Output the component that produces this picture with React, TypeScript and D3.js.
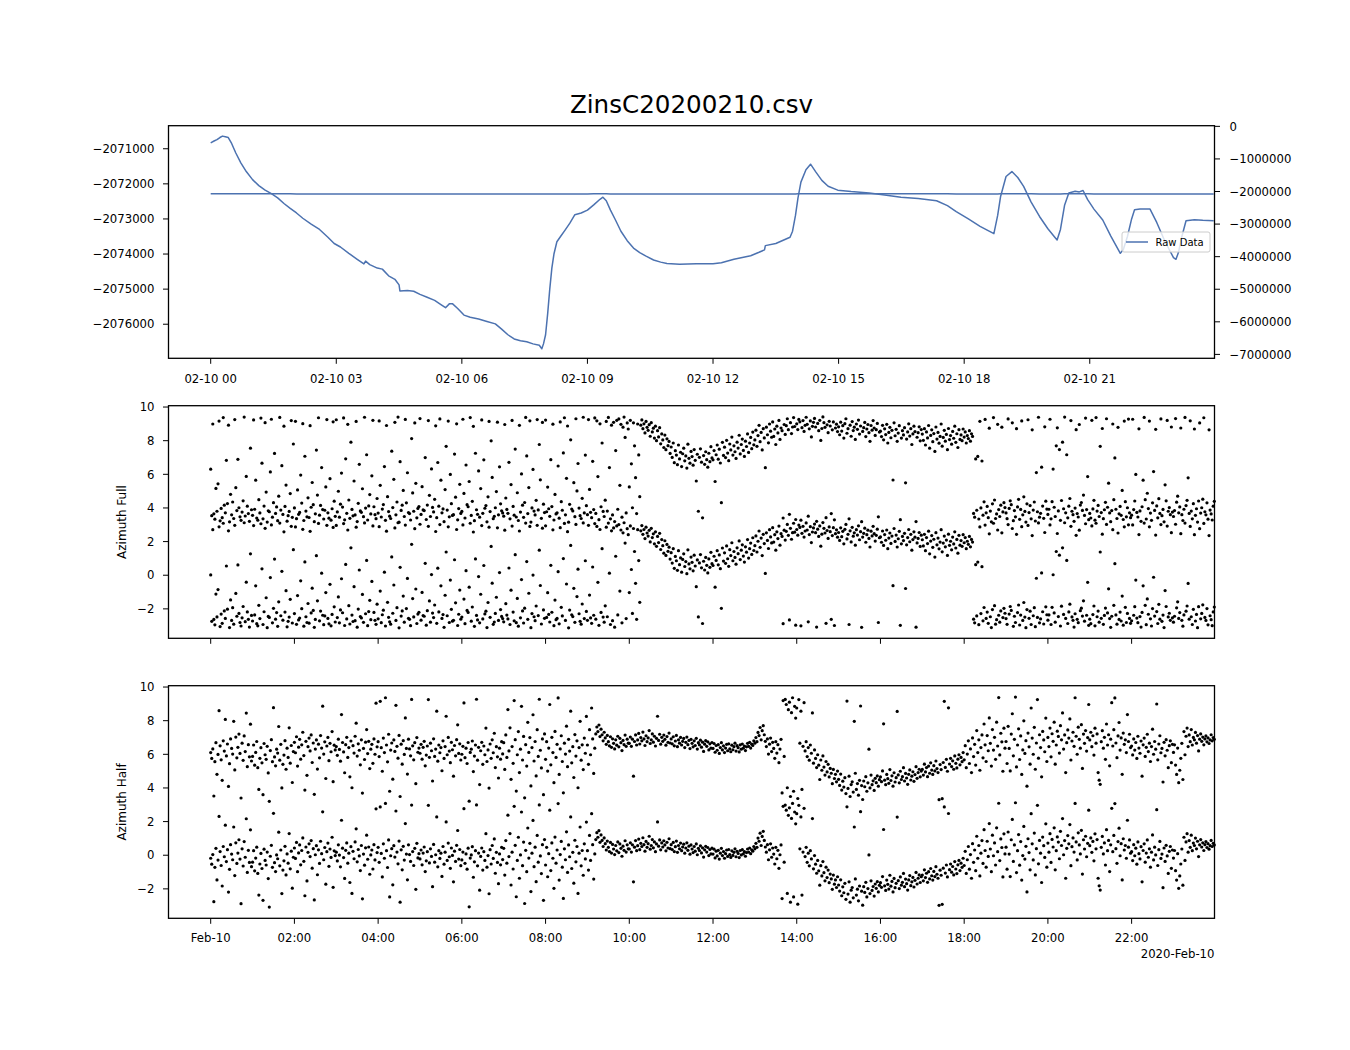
import React from 'react';
import * as d3 from 'd3';

// ---- Top panel: raw data (hours since 2020-02-10 00:00, value) ----
const rawHours = [
  0.0, 0.08, 0.15, 0.22, 0.28, 0.35, 0.42, 0.5, 0.6, 0.72, 0.85, 1.0, 1.15, 1.3, 1.45, 1.6, 1.75, 1.9,
  2.05, 2.2, 2.4, 2.6, 2.8, 2.95, 3.1, 3.3, 3.5, 3.66, 3.7, 3.8, 3.98, 4.1, 4.25, 4.4, 4.5, 4.52, 4.7,
  4.85, 5.0, 5.17, 5.35, 5.5, 5.61, 5.7, 5.78, 5.9, 6.05, 6.2, 6.4, 6.6, 6.8, 6.95, 7.1, 7.25, 7.4,
  7.55, 7.7, 7.85, 7.91, 7.95, 8.0, 8.05, 8.1, 8.15, 8.2, 8.27, 8.37, 8.47, 8.58, 8.7, 8.85, 9.0, 9.15,
  9.3, 9.37, 9.45, 9.55, 9.67, 9.8, 9.95, 10.1, 10.25, 10.4, 10.58, 10.75, 10.9, 11.2, 11.6, 12.0, 12.2,
  12.5, 12.9, 13.1, 13.23, 13.25, 13.5, 13.84, 13.9, 13.97, 14.03, 14.1, 14.22, 14.33, 14.45, 14.6,
  14.75, 14.98, 15.3, 15.73, 16.1, 16.49, 16.9, 17.34, 17.6, 17.81, 18.1, 18.38, 18.55, 18.71, 18.8,
  18.87, 19.0, 19.14, 19.28, 19.42, 19.6, 19.8, 20.0, 20.15, 20.22, 20.3, 20.4, 20.5, 20.65, 20.75,
  20.84, 20.95, 21.1, 21.31, 21.5, 21.73, 21.8, 21.9, 22.0, 22.07, 22.2, 22.44, 22.6, 22.8, 23.0, 23.06,
  23.12, 23.2, 23.3, 23.5, 23.7, 23.96,
];
const rawValues = [
  -2070830, -2070780, -2070740, -2070680, -2070640, -2070660, -2070680, -2070850, -2071120, -2071400,
  -2071650, -2071880, -2072050, -2072180, -2072280, -2072400, -2072560, -2072700, -2072830, -2072980,
  -2073150, -2073300, -2073520, -2073700, -2073800, -2073980, -2074150, -2074280, -2074200, -2074300,
  -2074400, -2074430, -2074620, -2074720, -2074880, -2075050, -2075040, -2075060, -2075150, -2075230,
  -2075320, -2075440, -2075530, -2075420, -2075420, -2075550, -2075740, -2075800, -2075850, -2075920,
  -2075990, -2076140, -2076300, -2076420, -2076470, -2076500, -2076560, -2076600, -2076700, -2076560,
  -2076300, -2075700, -2075000, -2074400, -2074000, -2073650, -2073480, -2073310, -2073120, -2072880,
  -2072830, -2072750, -2072600, -2072440, -2072380, -2072480, -2072750, -2073030, -2073350, -2073620,
  -2073830, -2073960, -2074060, -2074170, -2074230, -2074270, -2074290, -2074280, -2074280, -2074250,
  -2074150, -2074050, -2073950, -2073880, -2073760, -2073700, -2073520, -2073350, -2072900, -2072400,
  -2071950, -2071600, -2071440, -2071650, -2071900, -2072070, -2072180, -2072220, -2072260, -2072320,
  -2072380, -2072420, -2072480, -2072620, -2072790, -2073000, -2073210, -2073320, -2073420, -2072900,
  -2072360, -2071790, -2071650, -2071820, -2072070, -2072520, -2072930, -2073280, -2073500, -2073600,
  -2073300, -2072600, -2072260, -2072210, -2072230, -2072190, -2072450, -2072720, -2073030, -2073480,
  -2073980, -2073880, -2073500, -2073000, -2072740, -2072720, -2072720, -2073100, -2073650, -2074100,
  -2074150, -2073950, -2073500, -2073050, -2073020, -2073040, -2073050,
];

// ---- Azimuth Full (radians), one row per hour, samples evenly spaced within the hour ----
const azimuthFull = [
  [0.02, -2.74, 2.71, -2.63, -2.95, -1.12, -2.48, -0.85, 2.88, -3.05, -2.31, -2.86, 3.09, -2.12, -2.57, 0.55, -2.02, 2.64, -3.11, -1.47, -2.69, -1.93, -2.91, 2.97, -1.08, -2.44, 0.61, -2.27, -2.81, -3.02, -2.53, -1.86, 3.12, -2.76, -0.41, -2.18, -2.62, -3.08, 1.27, -2.39],
  [-2.72, 2.95, -2.36, -0.63, -2.88, -3.01, -1.79, -2.58, 3.06, 0.38, -2.93, -2.17, 2.79, -1.34, -3.12, -2.45, -2.51, -0.14, 2.99, -2.83, -1.97, 0.96, -2.61, -2.22, -3.04, -1.58, 3.1, -2.41, 0.23, -2.67, 2.58, -2.19, -0.92, -3.07, -2.74, -2.49, -1.43, 2.91, -2.84, 1.52],
  [-2.28, 2.87, -2.92, -1.21, -2.66, -2.55, -0.33, -1.99, 2.73, -3.03, 0.79, -2.47, -2.81, -1.68, -2.85, 2.61, -2.24, -0.77, -2.09, -3.1, -2.63, 1.16, -1.52, 3.08, -2.71, -2.13, 0.12, -2.38, -2.94, -2.42, -1.03, 2.97, -2.57, -2.89, -0.54, -3.01, -2.33, 2.84, -1.88, -2.78],
  [2.96, -2.52, -1.29, -2.83, -2.06, -0.21, -2.23, 3.07, -2.99, 0.64, -2.6, 2.69, -1.81, -2.9, 1.63, -2.37, -2.75, -0.68, -2.7, 2.86, -3.09, -2.01, 0.31, -2.46, -2.54, -1.14, -2.8, 3.11, -2.29, 0.88, -3.0, -2.16, -1.49, -2.64, -0.37, 2.93, -2.21, -2.68, -2.92, -1.72],
  [-2.59, 2.89, -0.94, -2.82, -2.35, -2.08, 0.18, -3.02, 2.62, -1.61, -2.5, -2.77, -2.91, 1.09, -2.26, -0.58, 2.81, -2.69, -1.93, 3.12, -3.13, 0.47, -2.43, -2.12, -1.24, -2.79, 2.98, -1.98, -0.19, -2.56, -2.62, -3.0, 1.84, -1.39, -2.48, 2.77, -0.82, -2.87, -2.31, -2.2],
  [3.03, -2.67, -1.02, -2.4, -2.44, 0.71, -2.97, -2.11, 2.91, -1.53, -2.79, 0.04, -2.25, -2.52, -1.77, 2.6, -2.86, 0.42, -2.18, 3.01, -0.63, -2.57, -2.34, -3.1, -1.19, 1.38, -2.41, 2.88, -2.81, -0.29, -2.03, -2.73, -2.68, 0.92, -1.64, 2.72, -2.99, -2.32, -0.88, -2.61],
  [-2.49, 2.99, -1.42, -2.88, 0.27, -2.09, -2.21, -0.71, 3.09, -2.73, -1.89, 2.57, -3.04, 0.97, -2.39, -2.66, -0.08, -2.83, -1.13, 2.95, -2.6, 0.58, -2.3, -2.14, -3.11, -1.62, 2.86, -2.5, 1.71, -0.47, -2.92, -2.78, -2.27, -1.31, 2.82, -2.69, 0.16, -2.04, -2.45, -2.58],
  [-2.77, 2.68, -1.69, -2.37, -2.6, 0.43, -2.93, -0.89, 2.92, -2.19, -2.71, 1.22, -2.82, -1.38, -3.03, 2.63, -2.53, -0.26, -2.12, -2.84, -1.96, 3.1, 0.81, -2.62, -1.07, 2.9, -3.12, -2.28, 0.01, -2.47, -2.7, -1.83, 2.97, -2.4, 1.49, -0.61, -2.9, 2.8, -2.06, -2.56],
  [2.94, -2.51, -1.04, -2.33, -2.78, 0.59, -2.2, 2.7, -3.0, -1.48, -2.64, -2.57, 0.21, -2.89, 2.83, -1.91, -2.42, 0.99, 3.08, -2.69, -0.52, 2.59, -3.13, -2.07, 1.77, -2.35, -2.46, -0.78, -2.8, 3.02, -1.27, 0.36, -2.29, -2.74, -2.91, -1.71, 3.11, -2.58, 0.86, -2.15],
  [-2.68, 2.97, -1.18, -2.54, -2.86, 0.49, -2.38, 3.07, -2.61, 2.9, -0.42, -2.98, 2.72, -2.21, 1.58, -2.49, -2.79, -1.82, 2.86, -2.47, 3.1, 0.12, -2.93, 2.64, -2.7, 2.81, -3.09, 1.13, 2.93, -2.36, 3.01, -0.94, 2.69, -2.83, 2.52, 3.12, 1.91, -2.58, 2.77, 2.41],
  [-1.03, 2.93, 0.34, -2.27, 2.78, 1.41, -0.48, -2.62, 2.71, 0.87, -1.61, 2.64, 2.95, 2.43, 2.72, 2.18, 2.86, 2.51, 2.33, 2.67, 1.98, 2.79, 2.24, 2.46, 1.87, 2.58, 1.72, 2.31, 1.94, 2.49, 1.53, 2.12, 1.76, 1.31, 2.05, 1.18, 1.83, 1.42, 1.67, 0.96],
  [1.34, 0.72, 1.58, 0.41, 1.12, 0.86, 0.29, 1.46, 0.63, 1.03, 0.18, 0.94, 1.27, 0.52, 0.81, 0.09, 1.51, 0.67, 0.38, 1.08, 0.77, 0.26, 1.19, 0.55, -0.68, 0.91, -2.48, 0.73, 1.23, 0.44, -2.87, 0.83, 0.31, 1.06, 0.59, 0.14, 0.97, 0.47, 1.36, 0.69],
  [0.58, 1.13, -0.71, 0.88, 1.46, 0.62, 1.21, 0.39, -1.97, 1.62, 0.84, 1.33, 0.71, 1.74, 0.98, 0.53, 1.52, 1.17, 1.93, 0.86, 1.41, 1.06, 0.66, 1.63, 1.28, 2.04, 0.93, 1.49, 1.81, 1.14, 0.78, 1.69, 1.37, 2.12, 1.02, 1.58, 1.91, 1.24, 2.23, 1.47],
  [1.76, 2.34, 1.38, 2.02, 2.63, 1.66, 2.21, 1.17, 2.43, 1.88, 0.11, 2.52, 2.07, 1.59, 2.71, 2.28, 1.92, 2.83, 1.97, 2.41, 1.49, 2.58, 2.18, 2.92, 1.79, 2.47, 2.31, -2.88, 2.68, 2.09, 2.61, 3.02, 2.37, -2.66, 2.79, 2.14, 2.53, 3.09, 2.56, -2.97],
  [2.72, 2.38, 2.98, 2.84, -3.01, 2.49, 2.91, 2.27, 2.63, 3.11, 2.69, -2.77, 2.42, 2.89, 1.94, 2.57, 2.81, 3.04, 2.53, -3.08, 2.74, 2.31, 2.93, 1.73, 2.44, 3.13, 2.79, 2.51, -2.86, 2.66, 2.19, 2.87, 2.59, -2.62, 2.36, 2.83, -2.99, 2.47, 2.7, 2.26],
  [2.54, 2.07, 2.82, 2.29, 2.61, 1.87, 2.73, 3.02, 2.16, 2.43, -2.93, 2.64, 1.98, 2.85, 2.32, 2.52, 1.79, 2.71, 2.39, 2.94, 2.11, 2.59, -3.1, 2.27, 2.49, 2.8, 1.96, 2.41, 2.68, 2.19, 1.68, 2.62, 2.34, 2.91, 2.47, 2.03, 2.37, 2.74, -2.81, 2.23],
  [2.28, 1.96, 2.63, 1.77, 2.42, 2.08, 2.69, 1.58, 2.21, 2.51, 1.89, 2.33, -0.62, 2.78, 2.01, 2.39, 1.68, 2.17, 2.61, -2.98, 1.87, 2.31, 2.06, 2.49, -0.79, 1.81, 2.24, 2.72, 1.99, 2.43, 1.49, 2.12, 2.58, 2.26, -3.09, 1.92, 2.19, 2.54, 1.71, 2.38],
  [2.11, 1.74, 2.43, 1.46, 2.24, 1.88, 2.62, 1.27, 2.03, 2.36, 1.66, 2.14, 1.08, 2.53, 1.81, 2.21, 1.57, 1.97, 2.71, 1.39, 1.91, 2.33, 1.69, 2.09, 1.18, 2.44, 1.78, 2.02, 1.51, 2.27, 1.86, 2.58, 1.62, 2.13, 1.31, 2.37, 1.79, 2.06, 1.72, 2.41],
  [1.93, 2.24, 1.58, 2.02, 1.84, 2.31, 1.69, 2.13, 1.97, -2.61, -2.83, 0.63, -2.42, 0.78, -2.94, 2.87, -2.28, 0.51, -2.71, -1.92, 2.98, -2.57, -2.19, -2.86, 2.46, -2.47, -3.11, -2.04, 3.09, -1.81, -2.91, -2.64, 2.69, -2.38, -2.79, -2.12, 2.52, -2.52, -1.97, -2.26],
  [-2.58, -2.92, 3.01, -2.31, -1.86, -2.09, 2.78, -3.04, -2.44, -2.81, 2.43, -2.22, -1.77, -2.96, -2.37, 2.89, -2.69, -1.62, -2.49, -3.12, -2.04, 2.96, -2.56, -2.14, -2.93, 2.36, -2.41, -1.93, -3.06, -0.18, -2.51, 3.11, -2.83, -2.6, 0.14, -2.17, -2.9, 2.54, -1.88, -2.35],
  [-2.67, -2.36, 2.99, -2.93, -1.91, 0.03, -2.24, -2.79, 1.41, 2.48, -2.46, 1.19, -3.02, -1.84, 1.63, -2.33, 3.12, -2.57, 0.88, -2.87, -2.18, -1.72, 2.91, -2.48, -2.68, -3.08, -2.29, 2.37, -2.62, -2.82, 2.68, -2.11, -1.96, -2.43, -1.52, -2.73, 3.06, -2.38, -0.42, -2.98],
  [-2.61, -2.88, 2.93, -2.34, -1.83, -3.01, 3.09, -2.47, -2.13, -2.79, 1.38, -2.56, 2.44, -2.92, -2.39, -1.95, 3.02, -2.24, -0.81, -2.58, -3.1, -2.44, 2.71, -1.79, 0.69, -2.36, -2.91, 2.51, -2.63, -2.19, -2.72, -1.24, -2.97, 2.88, -1.91, -2.81, -2.27, 3.0, -2.57, -2.86],
  [-2.71, 2.99, -2.38, -1.87, -0.29, -2.55, -2.82, 2.42, -2.46, -3.08, -2.21, -0.63, 3.1, -1.79, -2.94, -1.41, -2.32, 2.88, -2.59, -3.02, -1.98, -0.12, -2.43, 2.39, -2.16, -2.87, -1.73, -2.61, 3.01, -2.74, -2.37, -3.11, -0.91, -1.86, 2.92, -2.48, -2.26, -2.68, 2.53, -2.53],
  [-2.79, -2.44, 3.03, -1.94, -1.58, -2.57, -2.22, 2.47, -2.68, -3.03, -2.36, 3.1, -2.14, -1.83, -0.49, -2.61, 2.9, -2.47, -2.93, -2.03, 2.41, -2.72, -2.33, -3.12, -1.87, 2.77, -2.59, -2.27, -1.76, 3.08, -2.51, -2.69, -1.98, -2.95, 2.36, -2.41, -2.64, -3.0, -2.18, -1.89],
];

// ---- Azimuth Half (radians), one row per hour ----
const azimuthHalf = [
  [-0.18, -0.53, 0.04, -2.76, -0.72, 0.41, -1.47, -0.29, 2.31, 0.22, -0.61, -1.83, 0.52, -0.09, 1.79, -0.38, 0.33, -2.19, -0.84, 0.63, 0.07, -0.27, 1.68, -1.21, 0.74, -0.49, 0.13, 0.92, -0.23, -2.88, 0.38, -0.64, 0.81, -0.12, 2.17, -1.02, 0.29, -0.43, 1.51, -0.68],
  [-0.41, 0.27, -0.93, -0.17, 0.48, -1.08, -2.37, -0.52, 0.11, -0.79, -2.68, 0.36, -0.31, -0.58, 0.19, -1.39, -3.08, -0.06, 0.59, -0.72, 2.49, -0.44, -0.97, 0.02, -0.21, 1.37, -0.63, 0.31, -2.28, -0.88, -0.33, 0.53, -1.17, 0.08, -0.47, 1.29, -0.81, 0.24, -1.96, -0.12],
  [0.43, -0.19, 0.76, -0.98, 0.14, 0.61, -0.57, 0.28, 1.03, -0.36, -2.41, 0.49, -1.53, 0.17, 0.68, -0.08, 0.87, -0.77, 0.39, -2.66, 0.03, 0.57, -1.16, 0.32, -0.49, 0.83, 0.09, 2.58, -0.27, 0.46, -1.72, 0.21, 0.72, -0.66, 0.37, -0.13, 1.07, -1.91, 0.26, -0.02],
  [0.18, -0.34, 0.62, 0.01, -0.69, 2.08, 0.42, -0.14, -1.38, 0.29, 0.73, -0.47, 0.12, -1.62, 0.51, -2.27, 0.23, -0.21, 0.79, 1.57, -0.39, 0.34, -0.04, -0.91, 0.58, -2.59, 0.07, -0.59, 0.44, 1.19, -0.24, 0.49, -1.13, 0.02, 0.31, -0.82, 0.63, -0.28, 2.76, 0.16],
  [0.47, -0.42, 2.87, 0.11, -1.29, 0.68, -0.18, 3.08, 0.27, -0.73, 0.91, -2.48, -0.03, 0.39, -1.76, 0.57, -0.11, 2.63, 0.19, -0.51, 0.84, -2.79, 0.32, -0.87, 0.53, -0.29, 1.88, 0.07, -1.46, 0.62, 0.04, -0.37, 2.98, 0.22, -0.61, 0.41, -2.03, 0.71, -0.16, 0.09],
  [-0.22, 0.31, -0.57, 0.13, 0.49, -0.97, -0.33, 0.21, 2.97, -0.46, 0.38, -0.07, -1.87, 0.64, -0.41, 0.03, 2.28, -0.69, 0.27, -0.19, 0.12, -1.26, 0.52, -0.53, 0.18, 1.98, -0.31, 0.72, -0.09, -0.78, 0.43, -0.01, -1.58, 0.24, -0.37, 0.59, 1.47, -0.23, 0.34, -0.62],
  [-0.28, 0.19, 2.77, -0.48, 0.08, -0.83, 0.42, -3.07, -0.17, 0.02, 0.51, -1.31, -0.39, 0.27, 2.99, -0.63, 0.13, -2.08, -0.07, 0.43, -0.88, 0.21, -0.31, 1.28, -0.71, -0.02, -2.29, 0.33, -0.52, 0.58, -0.19, 0.97, -1.07, 0.17, -0.43, -1.69, 0.08, -0.57, 0.47, -0.26],
  [0.41, -1.18, 0.87, -0.47, 2.38, -0.08, 1.29, -1.77, 0.18, -0.82, 2.91, 0.59, -2.47, -0.31, 1.07, -1.37, 0.02, 2.57, -0.62, 0.78, -2.87, 0.29, -0.98, 1.62, -0.17, 0.71, -2.16, 0.12, 2.07, -0.68, 0.48, -1.57, 1.18, -0.41, 2.99, -0.04, -1.09, 0.63, -2.68, 0.93],
  [-0.58, 0.47, -1.28, 0.09, 2.68, -0.91, 0.73, -0.18, -1.97, 1.08, -0.47, 0.31, 3.07, -1.48, 0.04, 0.82, -0.71, -2.57, 0.38, -0.27, 1.39, -1.02, 0.61, -0.09, 2.28, -0.79, 0.17, -1.66, 0.89, -0.39, 0.52, -2.27, 0.12, 1.68, -0.63, 0.28, -1.19, 0.68, -0.22, 1.97],
  [0.27, -0.88, 1.18, -0.31, 2.47, 0.63, -1.42, 0.08, 0.93, 1.34, 1.07, 1.46, 0.77, 1.21, 0.88, 0.52, 1.03, 0.69, 0.31, 0.84, 0.47, 0.22, 0.76, 0.13, 0.64, 0.37, 0.04, 0.58, 0.26, 0.79, 0.16, 0.67, 0.41, -0.06, 0.54, 0.29, 0.86, 0.19, 0.62, 0.38],
  [0.37, 0.74, 0.19, 0.62, -1.58, 0.48, 0.87, 0.27, 0.57, 0.96, 0.33, 0.71, 0.52, 1.04, 0.63, 0.24, 0.82, 0.47, 0.69, 1.13, 0.36, 0.58, 0.93, 0.44, 0.79, 0.21, 0.67, 1.98, 0.54, 0.91, 0.32, 0.73, 0.49, 0.86, 0.61, 0.26, 0.77, 0.43, 0.98, 0.39],
  [0.63, 0.34, 0.76, 0.22, 0.51, 0.84, 0.17, 0.58, 0.38, 0.72, 0.27, 0.49, 0.66, 0.12, 0.43, 0.74, 0.29, 0.54, 0.06, 0.61, 0.37, 0.16, 0.52, 0.24, 0.67, 0.03, 0.41, 0.28, 0.56, 0.14, 0.44, -0.11, 0.32, 0.53, 0.19, 0.46, -0.02, 0.34, 0.08, 0.42],
  [0.07, 0.36, -0.16, 0.24, -0.04, 0.29, -0.23, 0.12, 0.41, -0.02, 0.22, -0.18, 0.09, 0.31, -0.07, 0.34, 0.04, -0.13, 0.26, -0.01, 0.17, 0.38, -0.09, 0.23, 0.11, -0.14, 0.28, 0.02, 0.33, 0.08, 0.21, -0.06, 0.16, 0.37, 0.19, 0.43, 0.09, 0.32, 0.24, 0.52],
  [0.38, 0.71, 0.47, 1.02, 0.83, 1.31, 0.58, 1.12, 1.42, 0.88, 0.49, 0.18, 0.63, -0.27, 0.32, 0.68, -0.12, 0.43, 0.07, -0.52, 0.47, -0.21, 0.29, -0.78, 0.03, 0.61, -2.58, 2.91, -0.41, 2.98, 2.68, -2.27, 2.37, 2.82, -2.79, 2.19, 3.08, -2.48, 2.57, 1.87],
  [2.47, -2.91, 2.97, 0.38, 2.28, -2.37, 0.19, 2.79, -0.08, 0.47, -0.42, 0.12, -0.63, 0.27, -0.22, 2.18, -0.81, -0.02, -0.53, -1.07, -0.31, -0.93, -1.78, -0.62, -1.23, -0.38, -1.04, -1.52, -0.71, -1.33, -0.88, -1.63, -1.12, -1.41, -2.03, -1.18, -1.72, -1.47, -1.92, -1.28],
  [-1.77, -2.13, -1.46, -2.41, -1.88, -2.23, -1.67, -2.62, 2.88, -2.31, -1.58, -2.79, -2.08, -1.92, -2.53, 1.68, -1.41, -2.37, -2.02, -2.71, -1.83, 2.59, -2.14, -2.97, -1.87, -2.21, -1.61, -2.48, -1.98, 0.02, -2.28, -1.52, -2.09, -1.86, -2.43, -1.71, -1.97, -1.57, -2.18, -1.79],
  [-1.63, -1.91, -1.27, 1.53, -1.82, -2.09, -1.48, -1.73, -2.01, -1.19, -1.84, -1.56, -2.18, -1.38, -1.93, -1.67, 2.27, -1.51, -1.98, -1.29, -1.78, -1.61, -1.08, -1.87, -1.42, -1.69, -2.07, -1.47, -1.21, -1.81, -1.58, -1.32, -1.89, -1.49, -1.02, -1.71, -1.37, -1.17, -1.62, -1.28],
  [-1.18, -1.52, -0.87, -1.33, -1.07, -1.61, -0.98, -1.41, -0.79, -1.22, -1.48, -0.96, -1.27, -0.68, -1.13, -1.37, -2.98, -0.89, -1.19, -2.92, -0.77, 2.87, -1.06, -0.58, -1.29, 2.48, -0.86, -0.52, -1.01, -0.67, -1.17, -0.38, -0.82, -1.09, -0.57, -0.31, -0.91, -0.47, -0.72, -0.18],
  [-0.61, 0.23, -1.08, -0.27, 0.52, -0.83, 0.04, -1.37, 0.69, -0.42, 0.31, -0.92, 1.13, -0.18, 0.58, -1.23, 0.12, 0.87, -0.49, 1.52, 0.28, -0.71, 0.83, -0.07, 1.88, 0.37, -0.98, 1.19, -0.03, 0.73, -0.58, 1.63, 0.21, 3.09, -0.32, 0.97, 0.46, -1.29, 1.27, 0.08],
  [0.48, -0.83, 1.38, 0.07, -1.27, 0.92, 2.13, -0.37, 0.61, 3.12, -1.03, 0.27, 1.23, -0.59, 0.81, -1.48, -0.02, 1.71, -0.23, 0.53, -2.18, 0.98, 0.16, -0.87, 2.47, 0.68, -0.28, 1.32, -1.17, 0.39, 2.97, -0.51, 0.88, 0.12, -1.62, 1.08, 0.57, -0.13, 1.87, -0.71],
  [0.72, 0.18, 1.28, -0.43, 0.94, 0.49, 1.63, -0.87, 0.27, 1.09, 0.78, -0.21, 1.42, 0.58, 2.18, 0.03, 0.87, -1.37, 0.41, 1.17, 0.68, 1.82, -0.62, 0.51, 1.03, 0.19, 3.08, 0.79, -0.28, 1.33, 0.61, 0.08, 1.48, -1.12, 0.92, 0.37, 1.13, -0.09, 0.71, 2.68],
  [0.57, 1.03, 0.17, 0.82, -0.33, 1.27, 0.38, 0.93, -1.37, -1.82, -2.07, 0.47, 1.12, 0.08, 0.73, -0.58, 1.52, 0.27, 0.88, -0.97, 0.62, 2.79, 0.21, 1.18, 3.07, 0.39, -0.48, 0.81, 1.61, -0.03, 0.69, -1.47, 0.98, 0.31, 0.58, -0.18, 2.08, 0.48, 0.91, 0.12],
  [0.21, -0.32, 0.63, -0.03, 0.42, -0.53, 0.79, 0.09, -0.22, 0.51, -1.58, 0.28, 0.68, -0.41, 0.13, 0.91, -0.12, 0.38, -0.71, 0.18, 1.21, -0.28, 0.48, 0.02, 2.71, -0.61, 0.33, 0.82, -0.19, 0.07, -1.93, 0.43, -0.37, 0.59, -0.04, -1.08, 0.23, 0.52, -0.78, 0.31],
  [-0.17, 0.28, -0.92, -1.48, 0.09, -1.97, -1.23, -0.52, 0.37, -1.78, 1.07, -0.31, 0.79, 1.28, 0.18, 0.87, 0.47, 1.19, 0.27, 0.72, 0.58, 1.02, 0.38, 0.83, -0.08, 0.62, 0.93, 0.49, 0.74, 0.28, 0.63, 0.81, 0.46, 0.69, 0.36, 0.57, 0.88, 0.52, 0.71, 0.61],
];

// ---- Axis ticks and labels ----
const leftTicks = [-2071000, -2072000, -2073000, -2074000, -2075000, -2076000];
const rightTicks = [0, -1000000, -2000000, -3000000, -4000000, -5000000, -6000000, -7000000];
const topTimeTicks = [0, 3, 6, 9, 12, 15, 18, 21];
const topTimeLabels = ['02-10 00', '02-10 03', '02-10 06', '02-10 09', '02-10 12', '02-10 15', '02-10 18', '02-10 21'];
const bottomTimeTicks = [0, 2, 4, 6, 8, 10, 12, 14, 16, 18, 20, 22];
const bottomTimeLabels = ['Feb-10', '02:00', '04:00', '06:00', '08:00', '10:00', '12:00', '14:00', '16:00', '18:00', '20:00', '22:00'];
const azTicks = [-2, 0, 2, 4, 6, 8, 10];

const FONT = 'DejaVu Sans, sans-serif';
const LINE_COLOR = '#4c72b0';
const fmt = (n: number) => (n < 0 ? '\u2212' + Math.abs(n) : String(n));

const L = 168.5;
const R = 1214.5;
const panels = { top: [125.7, 358.3], mid: [405.7, 638.3], bot: [685.7, 918.3] };
const TICK_FONT = 11.7;

function Frame({ y0, y1 }: { y0: number; y1: number }) {
  return <rect x={L} y={y0} width={R - L} height={y1 - y0} fill="none" stroke="#000" strokeWidth={1.3} />;
}

function ScatterPanel({ rows, y0, y1, label, showLabels }: { rows: number[][]; y0: number; y1: number; label: string; showLabels: boolean }) {
  const x = d3.scaleLinear().domain([-1.008, 23.98]).range([L, R]);
  const y = d3.scaleLinear().domain([-3.75, 10.08]).range([y1, y0]);
  const pts = rows.flatMap((row, h) => row.map((v, i) => ({ t: h + i / row.length, v })));
  const TWO_PI = 2 * Math.PI;
  return (
    <g>
      {pts.map((p, i) => (
        <g key={i}>
          <circle cx={x(p.t)} cy={y(p.v)} r={1.6} fill="#000" />
          <circle cx={x(p.t)} cy={y(p.v + TWO_PI)} r={1.6} fill="#000" />
        </g>
      ))}
      <Frame y0={y0} y1={y1} />
      {azTicks.map((tk) => (
        <g key={tk}>
          <line x1={L - 5.5} x2={L} y1={y(tk)} y2={y(tk)} stroke="#000" strokeWidth={1} />
          <text x={L - 14} y={y(tk)} dy="0.36em" textAnchor="end" fontSize={TICK_FONT} fontFamily={FONT}>
            {fmt(tk)}
          </text>
        </g>
      ))}
      {bottomTimeTicks.map((tk, i) => (
        <g key={tk}>
          <line x1={x(tk)} x2={x(tk)} y1={y1} y2={y1 + 5.5} stroke="#000" strokeWidth={1} />
          {showLabels && (
            <text x={x(tk)} y={y1 + 24} textAnchor="middle" fontSize={TICK_FONT} fontFamily={FONT}>
              {bottomTimeLabels[i]}
            </text>
          )}
        </g>
      ))}
      <text transform={`translate(126,${(y0 + y1) / 2}) rotate(-90)`} textAnchor="middle" fontSize={12} fontFamily={FONT}>
        {label}
      </text>
    </g>
  );
}

export default function App() {
  const [y0, y1] = panels.top;
  const x = d3.scaleLinear().domain([-1.008, 23.98]).range([L, R]);
  const yLeft = d3.scaleLinear().domain([-2076971, -2070343]).range([y1, y0]);
  const yRight = d3.scaleLinear().domain([-7120000, 20000]).range([y1, y0]);
  const raw = rawHours.map((t, i) => ({ t, v: rawValues[i] }));
  const lineLeft = d3.line<{ t: number; v: number }>().x((d) => x(d.t)).y((d) => yLeft(d.v));
  const lineRight = d3.line<{ t: number; v: number }>().x((d) => x(d.t)).y((d) => yRight(d.v));

  return (
    <div style={{ position: 'absolute', left: 0, top: 0 }}>
      <svg width={1350} height={1050} style={{ display: 'block', background: '#fff' }}>
        <rect width={1350} height={1050} fill="#fff" />
        <text x={(L + R) / 2} y={113} textAnchor="middle" fontSize={24.6} fontFamily={FONT}>
          ZinsC20200210.csv
        </text>

        {/* top panel */}
        <path d={lineLeft(raw) || ''} fill="none" stroke={LINE_COLOR} strokeWidth={1.5} strokeLinejoin="round" />
        <path d={lineRight(raw) || ''} fill="none" stroke={LINE_COLOR} strokeWidth={1.5} />
        <Frame y0={y0} y1={y1} />
        {leftTicks.map((tk) => (
          <g key={tk}>
            <line x1={L - 5.5} x2={L} y1={yLeft(tk)} y2={yLeft(tk)} stroke="#000" strokeWidth={1} />
            <text x={L - 14} y={yLeft(tk)} dy="0.36em" textAnchor="end" fontSize={TICK_FONT} fontFamily={FONT}>
              {fmt(tk)}
            </text>
          </g>
        ))}
        {rightTicks.map((tk) => (
          <g key={tk}>
            <line x1={R} x2={R + 5.5} y1={yRight(tk)} y2={yRight(tk)} stroke="#000" strokeWidth={1} />
            <text x={R + 15} y={yRight(tk)} dy="0.36em" textAnchor="start" fontSize={TICK_FONT} fontFamily={FONT}>
              {fmt(tk)}
            </text>
          </g>
        ))}
        {topTimeTicks.map((tk, i) => (
          <g key={tk}>
            <line x1={x(tk)} x2={x(tk)} y1={y1} y2={y1 + 5.5} stroke="#000" strokeWidth={1} />
            <text x={x(tk)} y={y1 + 24.4} textAnchor="middle" fontSize={TICK_FONT} fontFamily={FONT}>
              {topTimeLabels[i]}
            </text>
          </g>
        ))}
        {/* legend */}
        <g>
          <rect x={1122} y={232} width={88} height={20} rx={2} fill="#fff" fillOpacity={0.8} stroke="#cccccc" strokeWidth={1} />
          <line x1={1126} x2={1148} y1={242} y2={242} stroke={LINE_COLOR} strokeWidth={1.5} />
          <text x={1155.5} y={245.6} fontSize={10} fontFamily={FONT}>
            Raw Data
          </text>
        </g>

        <ScatterPanel rows={azimuthFull} y0={panels.mid[0]} y1={panels.mid[1]} label="Azimuth Full" showLabels={false} />
        <ScatterPanel rows={azimuthHalf} y0={panels.bot[0]} y1={panels.bot[1]} label="Azimuth Half" showLabels={true} />
        <text x={R} y={958.3} textAnchor="end" fontSize={TICK_FONT} fontFamily={FONT}>
          2020-Feb-10
        </text>
      </svg>
    </div>
  );
}
